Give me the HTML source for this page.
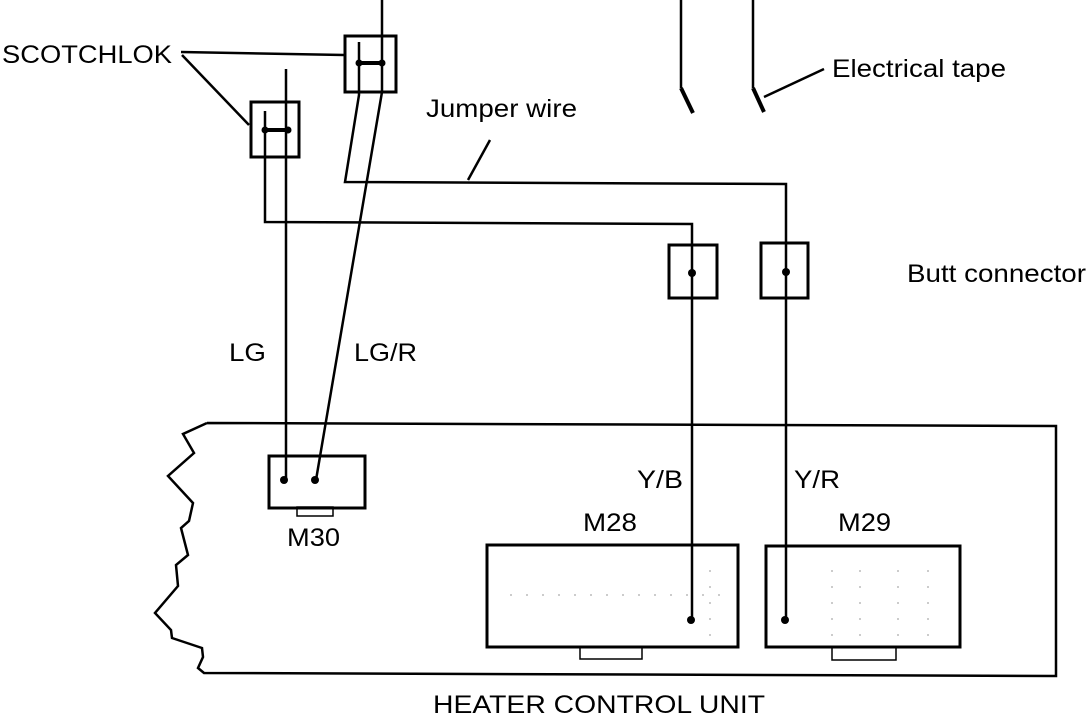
<!DOCTYPE html>
<html><head><meta charset="utf-8"><style>
html,body{margin:0;padding:0;background:#fff;}
svg{display:block;}
text{font-family:"Liberation Sans",Arial,sans-serif;font-size:25px;fill:#000;}
</style></head><body>
<svg width="1088" height="716" viewBox="0 0 1088 716" xmlns="http://www.w3.org/2000/svg">
<g stroke="#000" fill="none" stroke-width="3">
<polyline points="207,423 1056,426 1056,676 204,673 198,668 203,657 202,648 172,638 171,630 155,613 178,586 176,565 188,555 181,528 189,521 193,503 168,476 194,453 183,434 207,423" stroke-width="2.5"/>
<rect x="269" y="456" width="96" height="52"/>
<rect x="297" y="507" width="36" height="9" stroke-width="1.5"/>
<rect x="487" y="545" width="251" height="102"/>
<rect x="580" y="647" width="62" height="12" stroke-width="1.5"/>
<rect x="766" y="546" width="194" height="101"/>
<rect x="832" y="647" width="64" height="13" stroke-width="1.5"/>
<rect x="345" y="36" width="51" height="56"/>
<rect x="251" y="102" width="48" height="55"/>
<rect x="669" y="245" width="48" height="53"/>
<rect x="761" y="243" width="47" height="55"/>
<polyline points="382,0 382,92 316,480" stroke-width="2.5"/>
<polyline points="359,42 359,95 345,182 786,184 786,620" stroke-width="2.5"/>
<polyline points="286,69 286,480" stroke-width="2.5"/>
<polyline points="265,111 265,222 692,224 692,620" stroke-width="2.5"/>
<line x1="357" y1="63" x2="385" y2="63" stroke-width="4"/>
<line x1="263" y1="130" x2="291" y2="130" stroke-width="4"/>
<polyline points="681,0 681,88" stroke-width="2.5"/>
<line x1="681" y1="88" x2="693" y2="113" stroke-width="4"/>
<polyline points="753,0 753,88" stroke-width="2.5"/>
<line x1="753" y1="88" x2="764" y2="112" stroke-width="4"/>
<line x1="764" y1="97" x2="824" y2="69" stroke-width="2.5"/>
<line x1="181" y1="52" x2="344" y2="55" stroke-width="2.5"/>
<line x1="182" y1="55" x2="249" y2="125" stroke-width="2.5"/>
<line x1="468" y1="180" x2="490" y2="140" stroke-width="2.5"/>
</g>
<g fill="#000">
<circle cx="284" cy="480" r="4"/>
<circle cx="315" cy="480" r="4"/>
<circle cx="691" cy="620" r="4"/>
<circle cx="785" cy="620" r="4"/>
<circle cx="692" cy="273" r="4"/>
<circle cx="786" cy="272" r="4"/>
<circle cx="359" cy="63" r="3.5"/><circle cx="382" cy="63" r="3.5"/>
<circle cx="265" cy="130" r="3.5"/><circle cx="288" cy="130" r="3.5"/>
</g>
<g stroke="#999" stroke-width="1" stroke-dasharray="2,14">
<line x1="510" y1="595" x2="730" y2="595"/>
<line x1="710" y1="570" x2="710" y2="640"/>
<line x1="832" y1="570" x2="832" y2="640"/>
<line x1="860" y1="570" x2="860" y2="640"/>
<line x1="898" y1="570" x2="898" y2="640"/>
<line x1="928" y1="570" x2="928" y2="640"/>
</g>
<g lengthAdjust="spacingAndGlyphs">
<text x="2" y="63" textLength="170" lengthAdjust="spacingAndGlyphs">SCOTCHLOK</text>
<text x="832" y="77" textLength="174" lengthAdjust="spacingAndGlyphs">Electrical tape</text>
<text x="426" y="117" textLength="151" lengthAdjust="spacingAndGlyphs">Jumper wire</text>
<text x="907" y="282" textLength="179" lengthAdjust="spacingAndGlyphs">Butt connector</text>
<text x="229" y="361" textLength="37" lengthAdjust="spacingAndGlyphs">LG</text>
<text x="354" y="361" textLength="63" lengthAdjust="spacingAndGlyphs">LG/R</text>
<text x="637" y="488" textLength="46" lengthAdjust="spacingAndGlyphs">Y/B</text>
<text x="794" y="488" textLength="46" lengthAdjust="spacingAndGlyphs">Y/R</text>
<text x="583" y="531" textLength="54" lengthAdjust="spacingAndGlyphs">M28</text>
<text x="838" y="531" textLength="53" lengthAdjust="spacingAndGlyphs">M29</text>
<text x="287" y="546" textLength="53" lengthAdjust="spacingAndGlyphs">M30</text>
<text x="433" y="713" textLength="332" lengthAdjust="spacingAndGlyphs">HEATER CONTROL UNIT</text>
</g>
</svg>
</body></html>
